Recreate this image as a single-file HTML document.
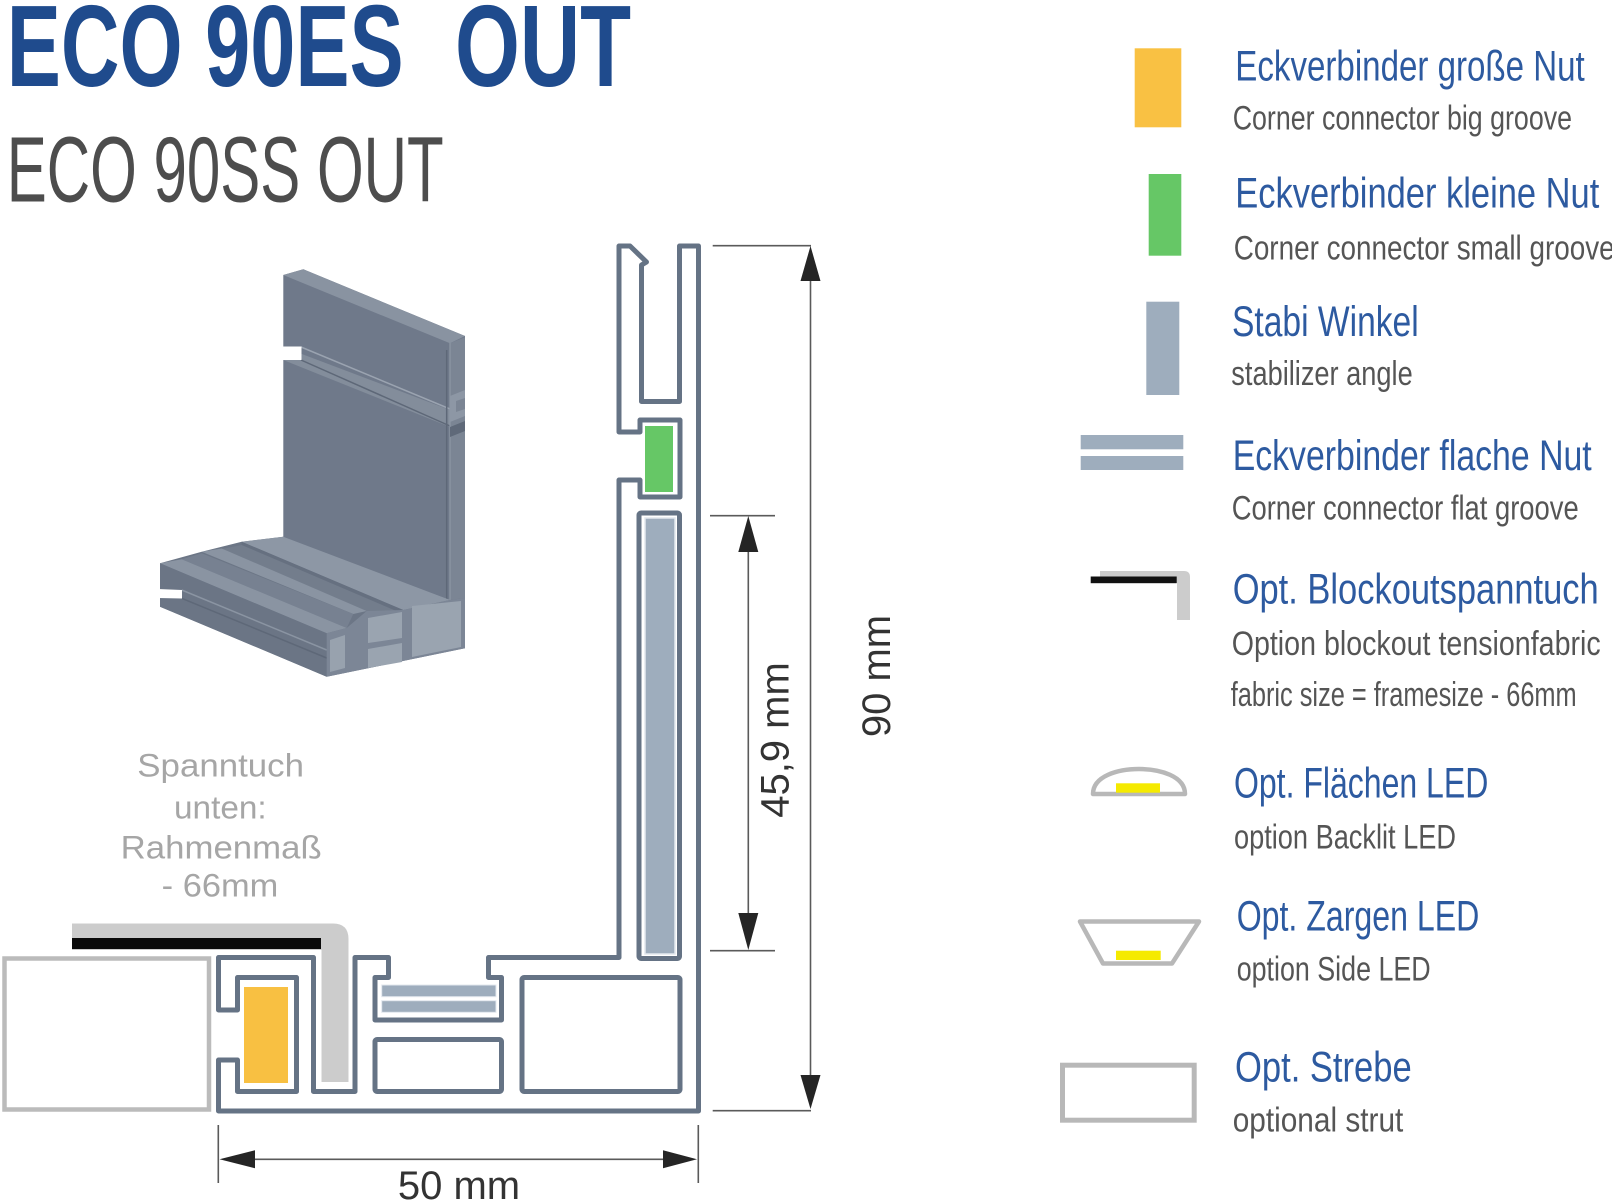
<!DOCTYPE html>
<html>
<head>
<meta charset="utf-8">
<style>
  html, body { margin: 0; padding: 0; background: #ffffff; }
  svg { display: block; }
  text { font-family: "Liberation Sans", Arial, sans-serif; }
</style>
</head>
<body>
<svg width="1612" height="1200" viewBox="0 0 1612 1200" xmlns="http://www.w3.org/2000/svg">
  <rect x="0" y="0" width="1612" height="1200" fill="#ffffff"/>

  <!-- Titles -->
  <text x="6.7" y="86" font-size="116" font-weight="bold" fill="#1f4b8d" textLength="397" lengthAdjust="spacingAndGlyphs">ECO 90ES</text>
  <text x="455" y="86" font-size="116" font-weight="bold" fill="#1f4b8d" textLength="176" lengthAdjust="spacingAndGlyphs">OUT</text>
  <text x="6.7" y="201.5" font-size="93" fill="#4d4d4d" textLength="437" lengthAdjust="spacingAndGlyphs">ECO 90SS OUT</text>

  <!-- 3D render of profile -->
  <g>
    <polygon points="283.3,275 303.3,269.3 465,336 465,648 450,600 283.3,540" fill="#6f798a"/>
    <polygon points="283.3,275 303.3,269.3 465,336 450,343.3" fill="#8993a1"/>
    <polygon points="283.3,347 450,410 450,427 283.3,360" fill="#838d9b"/>
    <line x1="301" y1="347" x2="450" y2="409" stroke="#9aa3b0" stroke-width="1.5"/>
    <line x1="301" y1="360" x2="450" y2="426" stroke="#5e6878" stroke-width="1.5"/>
    <polygon points="281,346.5 301.5,346.5 301.5,360 281,360" fill="#ffffff"/>
    <polygon points="450,343.3 465,337.3 465,600 450,603" fill="#7b8594"/>
    <line x1="446.7" y1="350" x2="446.7" y2="600" stroke="#5e6878" stroke-width="1.5"/>
    <line x1="450" y1="343" x2="450" y2="600" stroke="#8e98a6" stroke-width="1.2"/>
    <polygon points="450,396 465,390 465,398 456,401 456,412 465,409 465,416 450,422" fill="#8d97a5"/>
    <polygon points="450,427 465,421 465,431 450,437" fill="#5f6979"/>

    <polygon points="160,563.3 201.7,551.7 241.7,541.7 283.3,536.7 450,600 465,598 465,648.3 326.7,676.7 160,606.7" fill="#6c7686"/>
    <polygon points="241.7,541.7 283.3,536.7 450,600 403.3,610" fill="#8d97a5"/>
    <polygon points="241.7,541.7 403.3,610 403.3,617 241.7,548.5" fill="#667080"/>
    <polygon points="221.7,549 241.7,545 403.3,614 366.7,611" fill="#737d8c"/>
    <polygon points="201.7,551.7 221.7,548.5 366.7,611 353.3,614" fill="#8a94a2"/>
    <polygon points="181.7,559.3 201.7,553.3 353.3,614 346.7,628" fill="#778191"/>
    <polygon points="160,563.3 181.7,559.3 346.7,628 326.7,633.3" fill="#8a94a2"/>
    <polygon points="160,563.3 326.7,633.3 326.7,676.7 160,606.7" fill="#6b7585"/>
    <line x1="181.7" y1="590" x2="326.7" y2="650" stroke="#8a94a2" stroke-width="1.5"/>
    <line x1="181.7" y1="598.3" x2="326.7" y2="658" stroke="#5e6878" stroke-width="1.5"/>
    <polygon points="158,589 182,590 182,598.5 158,598" fill="#ffffff"/>
    <polygon points="326.7,633.3 346.7,628 366.7,611 403.3,610 450,600 465,598 465,648.3 326.7,676.7" fill="#7c8696"/>
    <polygon points="330,640 345,635 345,668 330,672" fill="#98a2ae"/>
    <polygon points="368,618 402,612 402,638 368,643" fill="#9aa4b0"/>
    <polygon points="368,649 402,643 402,662 368,668" fill="#9aa4b0"/>
    <polygon points="412,606 461,601 461,647 412,657" fill="#9aa4b0"/>
  </g>

  <!-- Spanntuch label -->
  <g font-size="32" fill="#a6a6a6">
    <text x="137.3" y="776.7" textLength="166.7" lengthAdjust="spacingAndGlyphs">Spanntuch</text>
    <text x="174" y="818.3" textLength="92.7" lengthAdjust="spacingAndGlyphs">unten:</text>
    <text x="120.7" y="858.3" textLength="201" lengthAdjust="spacingAndGlyphs">Rahmenmaß</text>
    <text x="161.7" y="896.7" textLength="116.6" lengthAdjust="spacingAndGlyphs">- 66mm</text>
  </g>

  <!-- Strut (grey rect at left) -->
  <rect x="4.5" y="958.5" width="204.5" height="151" fill="none" stroke="#bbbbbb" stroke-width="4.5"/>

  <!-- Tension fabric -->
  <path d="M72 923.5 H333 Q348.5 923.5 348.5 939 V1082 H321.5 V950 H72 Z" fill="#cccccc"/>
  <rect x="72" y="938" width="249" height="11" fill="#0a0a0a"/>

  <!-- Profile cross-section -->
  <g fill="none" stroke="#657385" stroke-width="5" stroke-linejoin="round">
    <path d="M218.5 1111 V1060 H237.5 V1091.5 H296.5 V977.5 H237.5 V1010 H218.5 V957.5 H313.5 V1091.5 H355 V957.5 H388.5 V977.5 H375 V1020 H501.5 V977.5 H488.5 V957.5 H619 V480 H640 V497 H680 V420 H640 V432 H619 V246 H630 L646.5 262 L641.5 265 V401.5 H679.5 V246 H698.5 V1111 Z"/>
    <rect x="375" y="1039.5" width="126.5" height="52" rx="2"/>
    <rect x="522" y="977.5" width="158" height="114" rx="2"/>
    <rect x="639" y="513" width="40.5" height="445.5" rx="2"/>
  </g>

  <!-- Inserts -->
  <rect x="244" y="987" width="44" height="96" fill="#f8c042"/>
  <rect x="645" y="426" width="28" height="66" fill="#66c766"/>
  <rect x="645" y="518" width="30" height="436" fill="#9eadbd" stroke="#e3e8ee" stroke-width="1.5"/>
  <rect x="381.7" y="985" width="114.3" height="11.7" fill="#9eadbd" stroke="#e3e8ee" stroke-width="1"/>
  <rect x="381.7" y="1000.7" width="114.3" height="11.6" fill="#9eadbd" stroke="#e3e8ee" stroke-width="1"/>

  <!-- Dimension 90 mm -->
  <g stroke="#5a5a5a" stroke-width="1.6">
    <line x1="712.7" y1="245.7" x2="811" y2="245.7"/>
    <line x1="712.7" y1="1110.7" x2="811" y2="1110.7"/>
    <line x1="810.5" y1="250" x2="810.5" y2="1106"/>
    <line x1="710" y1="515.7" x2="775" y2="515.7"/>
    <line x1="710" y1="950.7" x2="775" y2="950.7"/>
    <line x1="748.3" y1="520" x2="748.3" y2="946"/>
    <line x1="218.3" y1="1125" x2="218.3" y2="1183"/>
    <line x1="698.3" y1="1125" x2="698.3" y2="1183"/>
    <line x1="224" y1="1159.3" x2="692" y2="1159.3"/>
  </g>
  <g fill="#252525">
    <polygon points="810.5,246 800.5,281 820.5,281"/>
    <polygon points="810.5,1109 800.5,1075 820.5,1075"/>
    <polygon points="748.3,516 738.3,552 758.3,552"/>
    <polygon points="748.3,950 738.3,913 758.3,913"/>
    <polygon points="219.5,1159.3 255,1150.3 255,1168.3"/>
    <polygon points="697,1159.3 663,1150.3 663,1168.3"/>
  </g>
  <text transform="translate(890,676) rotate(-90)" text-anchor="middle" font-size="40" fill="#333333">90 mm</text>
  <text transform="translate(788.5,740) rotate(-90)" text-anchor="middle" font-size="40" fill="#333333">45,9 mm</text>
  <text x="459" y="1199" text-anchor="middle" font-size="40" fill="#333333">50 mm</text>

  <!-- Legend icons -->
  <rect x="1134.7" y="48.3" width="46.6" height="79" fill="#f9c143"/>
  <rect x="1148.7" y="174" width="32.6" height="81.7" fill="#66c766"/>
  <rect x="1146.3" y="301.7" width="33" height="93.3" fill="#9eadbd"/>
  <rect x="1080.7" y="435" width="102.6" height="14.3" fill="#9eadbd"/>
  <rect x="1080.7" y="456" width="102.6" height="14" fill="#9eadbd"/>
  <path d="M1100 571 H1184 Q1190 571 1190 577 V620 H1177 V583 H1100 Z" fill="#cccccc"/>
  <rect x="1090.7" y="576.5" width="86" height="6.7" fill="#111111"/>
  <path d="M1093 794 C1093 776 1118 769 1139 769 C1160 769 1185 776 1185 794 Z" fill="#ffffff" stroke="#b8b8b8" stroke-width="4.5" stroke-linejoin="round"/>
  <rect x="1116" y="783.3" width="44" height="9.4" fill="#f5ea00"/>
  <path d="M1080 921.5 H1199 L1172 963.5 H1103 Z" fill="#ffffff" stroke="#b8b8b8" stroke-width="4.5" stroke-linejoin="round"/>
  <rect x="1116" y="950.7" width="44.7" height="9.3" fill="#f5ea00"/>
  <rect x="1062.5" y="1065.2" width="131.7" height="55" fill="#ffffff" stroke="#b8b8b8" stroke-width="5"/>

  <!-- Legend text: headings -->
  <g font-size="43" fill="#2d5aa0">
    <text x="1235.3" y="80.7" textLength="349.4" lengthAdjust="spacingAndGlyphs">Eckverbinder große Nut</text>
    <text x="1235.3" y="207.3" textLength="364" lengthAdjust="spacingAndGlyphs">Eckverbinder kleine Nut</text>
    <text x="1232" y="336" textLength="186.7" lengthAdjust="spacingAndGlyphs">Stabi Winkel</text>
    <text x="1232.7" y="470" textLength="359" lengthAdjust="spacingAndGlyphs">Eckverbinder flache Nut</text>
    <text x="1232.7" y="603.3" textLength="366" lengthAdjust="spacingAndGlyphs">Opt. Blockoutspanntuch</text>
    <text x="1234" y="797.3" textLength="254.3" lengthAdjust="spacingAndGlyphs">Opt. Flächen LED</text>
    <text x="1236.7" y="930.7" textLength="242.6" lengthAdjust="spacingAndGlyphs">Opt. Zargen LED</text>
    <text x="1235" y="1081.7" textLength="176.7" lengthAdjust="spacingAndGlyphs">Opt. Strebe</text>
  </g>
  <!-- Legend text: subtitles -->
  <g font-size="34" fill="#555555">
    <text x="1232.7" y="129.3" textLength="339.3" lengthAdjust="spacingAndGlyphs">Corner connector big groove</text>
    <text x="1233.7" y="259.3" textLength="381" lengthAdjust="spacingAndGlyphs">Corner connector small groove</text>
    <text x="1231.3" y="385" textLength="181.4" lengthAdjust="spacingAndGlyphs">stabilizer angle</text>
    <text x="1231.7" y="519.3" textLength="347" lengthAdjust="spacingAndGlyphs">Corner connector flat groove</text>
    <text x="1231.7" y="655" textLength="369" lengthAdjust="spacingAndGlyphs">Option blockout tensionfabric</text>
    <text x="1230.7" y="706" textLength="346" lengthAdjust="spacingAndGlyphs">fabric size = framesize - 66mm</text>
    <text x="1234" y="848.3" textLength="222" lengthAdjust="spacingAndGlyphs">option Backlit LED</text>
    <text x="1236.7" y="980.7" textLength="194" lengthAdjust="spacingAndGlyphs">option Side LED</text>
    <text x="1232.7" y="1131.7" textLength="170.6" lengthAdjust="spacingAndGlyphs">optional strut</text>
  </g>
</svg>
</body>
</html>
